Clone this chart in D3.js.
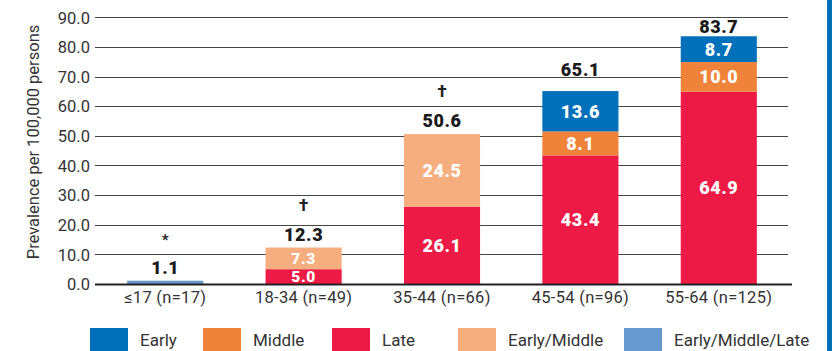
<!DOCTYPE html>
<html><head><meta charset="utf-8">
<script src="https://cdn.jsdelivr.net/npm/d3@7"></script>
<style>
html,body{margin:0;padding:0;background:#fff;}
svg{display:block;}
text{font-family:Roboto,"Liberation Sans",sans-serif;}
</style></head>
<body>
<svg id="chart" width="832" height="351"></svg>
<script>
const categories = ["\u226417 (n=17)", "18-34 (n=49)", "35-44 (n=66)", "45-54 (n=96)", "55-64 (n=125)"];
const early = [0, 0, 0, 13.6, 8.7];
const middle = [0, 0, 0, 8.1, 10.0];
const late = [0, 5.0, 26.1, 43.4, 64.9];
const earlyMiddle = [0, 7.3, 24.5, 0, 0];
const earlyMiddleLate = [1.1, 0, 0, 0, 0];
const totals = [1.1, 12.3, 50.6, 65.1, 83.7];
const markers = ["*", "\u2020", "\u2020", "", ""];
const yTicks = [0, 10, 20, 30, 40, 50, 60, 70, 80, 90];
const seriesNames = ["Early", "Middle", "Late", "Early/Middle", "Early/Middle/Late"];

const colors = {"Early":"#0070ba","Middle":"#f0833a","Late":"#ee1a46","Early/Middle":"#f7ae7e","Early/Middle/Late":"#6699d0"};
const seriesData = {"Early":early,"Middle":middle,"Late":late,"Early/Middle":earlyMiddle,"Early/Middle/Late":earlyMiddleLate};
const stackOrder = ["Late","Middle","Early","Early/Middle","Early/Middle/Late"];

const svg = d3.select("#chart");
const x = d3.scaleBand().domain(categories).range([96, 788]).paddingInner(0.45).paddingOuter(0.225);
const y = d3.scaleLinear().domain([0, 90]).range([284, 17.3]);

// gridlines
svg.append("g").selectAll("line").data(yTicks.filter(d => d > 0)).join("line")
  .attr("x1", 95).attr("x2", 788)
  .attr("y1", d => Math.round(y(d)) + 0.5).attr("y2", d => Math.round(y(d)) + 0.5)
  .attr("stroke", "#444").attr("stroke-width", 1);

// y axis labels
const yAxis = d3.axisLeft(y).tickValues(yTicks).tickFormat(d3.format(".1f")).tickSize(0).tickPadding(0);
const ya = svg.append("g").attr("transform", "translate(90,0)").call(yAxis);
ya.select(".domain").remove();
ya.selectAll("text").attr("font-size", 16.5).attr("fill", "#333").attr("dy", "0.35em")
  .style("font-family", "Roboto, sans-serif");

// y title
svg.append("text").attr("transform", "translate(39,142) rotate(-90)")
  .attr("text-anchor", "middle").attr("font-size", 16.5).attr("fill", "#333")
  .text("Prevalence per 100,000 persons");

// stacked bars
const rows = categories.map((c, i) => {
  const o = {cat: c};
  seriesNames.forEach(s => o[s] = seriesData[s][i]);
  return o;
});
const stack = d3.stack().keys(stackOrder)(rows);
const gBars = svg.append("g");
stack.forEach(layer => {
  gBars.selectAll(null).data(layer.filter(d => d[1] - d[0] > 0)).join("rect")
    .attr("x", d => x(d.data.cat)).attr("width", x.bandwidth())
    .attr("y", d => y(d[1])).attr("height", d => y(d[0]) - y(d[1]))
    .attr("fill", colors[layer.key]);
  gBars.selectAll(null).data(layer.filter(d => d[1] - d[0] > 2)).join("text")
    .attr("x", d => x(d.data.cat) + x.bandwidth() / 2)
    .attr("y", d => (y(d[0]) + y(d[1])) / 2)
    .attr("dy", "0.36em").attr("text-anchor", "middle")
    .attr("font-size", d => (d[1] - d[0]) < 8 ? 15.5 : 18).attr("font-weight", 900).attr("fill", "#fff")
    .attr("letter-spacing", 0.6)
    .text(d => d3.format(".1f")(d[1] - d[0]));
});

// baseline
svg.append("line").attr("x1", 95).attr("x2", 792).attr("y1", y(0) + 0.5).attr("y2", y(0) + 0.5)
  .attr("stroke", "#222").attr("stroke-width", 1.8);

// totals (labels without a marker sit a little higher)
const totalY = i => Math.max(y(totals[i]) - (markers[i] ? 7 : 15), 33);
svg.append("g").selectAll("text").data(categories).join("text")
  .attr("x", c => x(c) + x.bandwidth() / 2)
  .attr("y", (c, i) => totalY(i))
  .attr("text-anchor", "middle").attr("font-size", 18).attr("font-weight", 900)
  .attr("fill", "#1a1a1a").attr("letter-spacing", 0.6)
  .text((c, i) => d3.format(".1f")(totals[i]));

// markers
svg.append("g").selectAll("text").data(categories).join("text")
  .attr("x", c => x(c) + x.bandwidth() / 2)
  .attr("y", (c, i) => totalY(i) - 30 + (markers[i] === "*" ? 1 : 0))
  .attr("text-anchor", "middle").attr("font-size", (c, i) => markers[i] === "*" ? 15 : 17)
  .attr("font-weight", "bold").attr("fill", "#222")
  .text((c, i) => markers[i]);

// x labels
const xAxis = d3.axisBottom(x).tickSize(0).tickPadding(0);
const xa = svg.append("g").attr("transform", "translate(0,303)").call(xAxis);
xa.select(".domain").remove();
xa.selectAll("text").attr("dy", 0).attr("y", 0).attr("font-size", 16.5).attr("fill", "#333")
  .style("font-family", "Roboto, sans-serif").attr("letter-spacing", 0.3);

// legend
const legendX = [90, 203, 332, 458, 624];
const lg = svg.append("g");
seriesNames.forEach((s, i) => {
  lg.append("rect").attr("x", legendX[i]).attr("y", 328).attr("width", 38).attr("height", 23).attr("fill", colors[s]);
  lg.append("text").attr("x", legendX[i] + 50).attr("y", 346).attr("font-size", 17).attr("fill", "#333").text(s);
});

// right edge band
svg.append("rect").attr("x", 827).attr("y", 0).attr("width", 5).attr("height", 351).attr("fill", "#0070ba");
</script>
</body></html>
